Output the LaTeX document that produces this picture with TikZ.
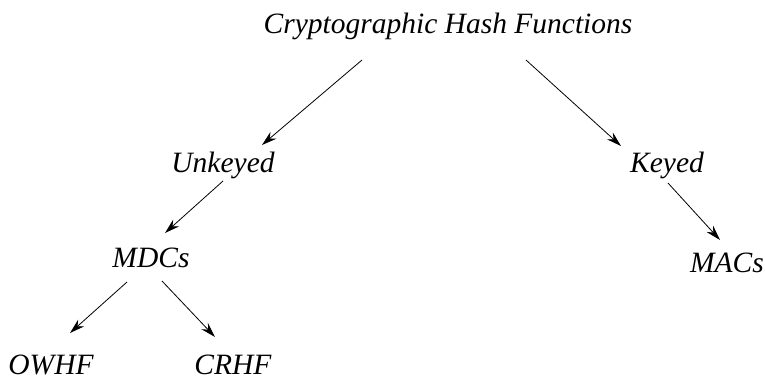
\documentclass[tikz,border=0pt]{standalone}
\usepackage{fontspec}
\setmainfont{Liberation Serif}
\usetikzlibrary{arrows.meta,calc}
\begin{document}
\begin{tikzpicture}[x=1pt,y=-1pt,
  lbl/.style={anchor=base,inner sep=0pt,font=\fontsize{29.5}{32}\selectfont\itshape},
  arr/.style={line width=0.8pt,-{Stealth[length=15pt,width=9pt,inset=5pt]}}]
  \useasboundingbox (0,0) rectangle (765,380);
  % labels, placed by their baselines
  \node[lbl] (chf) at (448,33) {Cryptographic Hash Functions};
  \node[lbl] (unk) at (223,172) {Unkeyed};
  \node[lbl] (key) at (667,172) {Keyed};
  \node[lbl] (mdc) at (151,267) {MDCs};
  \node[lbl] (mac) at (727,272) {MACs};
  \node[lbl,text depth=0pt] (owh) at (51,374) {OWHF};
  \node[lbl,text depth=0pt] (crh) at (233,374) {CRHF};
  % tree edges
  \draw[arr] ($(chf.base)+(-86,27)$) -- ($(unk.base)+(39,-27)$);
  \draw[arr] ($(chf.base)+(78,27)$) -- ($(key.base)+(-46,-26)$);
  \draw[arr] ($(unk.base)+(0,9)$) -- ($(mdc.base)+(14,-34)$);
  \draw[arr] ($(key.base)+(1,11)$) -- ($(mac.base)+(-7,-32)$);
  \draw[arr] ($(mdc.base)+(-24,15)$) -- ($(owh.base)+(19,-41)$);
  \draw[arr] ($(mdc.base)+(11,14)$) -- ($(crh.base)+(-18,-37)$);
\end{tikzpicture}
\end{document}
